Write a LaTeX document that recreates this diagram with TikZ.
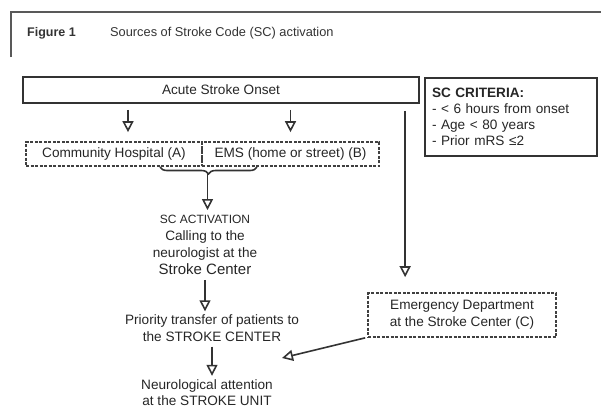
\documentclass[tikz,border=0pt]{standalone}
\usepackage{fontspec}
\setmainfont{Liberation Sans}
\usetikzlibrary{arrows.meta,decorations.pathreplacing,calc}
\begin{document}
\begin{tikzpicture}[x=1pt,y=-1pt,
  ink/.style={draw=black!80, line width=1.6pt},
  solidbox/.style={draw=black!80, line width=1.7pt, inner sep=0pt},
  dashbox/.style={draw=black!75, line width=1.7pt, dash pattern=on 3pt off 1.5pt, inner sep=0pt},
  arr/.style={draw=black!80, line width=1.6pt, -{Triangle[open, length=11pt, width=11pt, line width=1.6pt]}},
  lbl/.style={font=\fontsize{13.6}{17}\selectfont, text=black!85},
]
\useasboundingbox (0,0) rectangle (601,410);
% header frame
\draw[draw=black!65, line width=2.2pt] (11,57) -- (11,12) -- (601,12);
\node[anchor=west, font=\fontsize{12.5}{15}\selectfont\bfseries, text=black!80, inner sep=0pt] (fig) at (27,33) {Figure 1};
\node[anchor=west, font=\fontsize{12.8}{15}\selectfont, text=black!80, inner sep=0pt] (title) at (110,33) {Sources of Stroke Code (SC) activation};
% boxes
\node[solidbox, minimum width=396pt, minimum height=26pt, lbl] (onset) at (221,90) {Acute Stroke Onset};
\node[solidbox, line width=2pt, anchor=north west, minimum height=78pt, text width=158pt, align=left, lbl, font=\fontsize{13.6}{16}\selectfont, inner sep=7pt] (crit) at (424,77)
  {\textbf{SC CRITERIA:}\\- < 6 hours from onset\\- Age < 80 years\\- Prior mRS ≤2};
\node[dashbox, minimum width=176pt, minimum height=24pt, lbl] (commA) at (114,154) {Community Hospital (A)};
\node[dashbox, minimum width=177pt, minimum height=24pt, lbl] (ems) at (290.5,154) {EMS (home or street) (B)};
\node[dashbox, minimum width=188pt, minimum height=44pt, lbl, align=center] (ed) at (462,315) {Emergency Department\\at the Stroke Center (C)};
% text blocks
\node[lbl, align=center, inner sep=1pt] (act) at (205,245) {{\fontsize{12}{16.5}\selectfont SC ACTIVATION}\\Calling to the\\neurologist at the\\{\fontsize{15}{16.5}\selectfont Stroke Center}};
\node[lbl, align=center, inner sep=1pt] (prio) at (212,328) {Priority transfer of patients to\\the STROKE CENTER};
\node[lbl, align=center, inner sep=1pt, font=\fontsize{13.6}{16}\selectfont] (unit) at (207,393) {Neurological attention\\at the STROKE UNIT};
% arrows from onset
\draw[arr, shorten <=6pt, shorten >=9pt] ($(commA.north |- onset.south)+(14,0)$) -- ($(commA.north)+(14,0)$);
\draw[arr, shorten <=6pt, shorten >=9pt] (ems.north |- onset.south) -- (ems.north);
\draw[arr, shorten <=7pt, shorten >=15pt] ($(ed.north west |- onset.south)+(38,0)$) -- ($(ed.north west)+(38,0)$);
% brace
\coordinate (bl) at (160,167);
\coordinate (br) at (257,167);
\draw[ink, decorate, decoration={brace, mirror, amplitude=7pt}] (bl) -- (br);
\coordinate (bt) at (207.5,174);
\draw[arr, shorten >=4pt] (bt) -- (bt |- act.north);
\draw[arr, shorten <=4pt, shorten >=2pt] (act.south) -- (act.south |- prio.north);
\draw[arr, shorten <=4pt, shorten >=3pt] (prio.south) -- (prio.south |- unit.north);
\coordinate (edtip) at (282,358);
\draw[arr] ($(ed.south west)+(-2,0)$) -- (edtip);
\end{tikzpicture}
\end{document}
